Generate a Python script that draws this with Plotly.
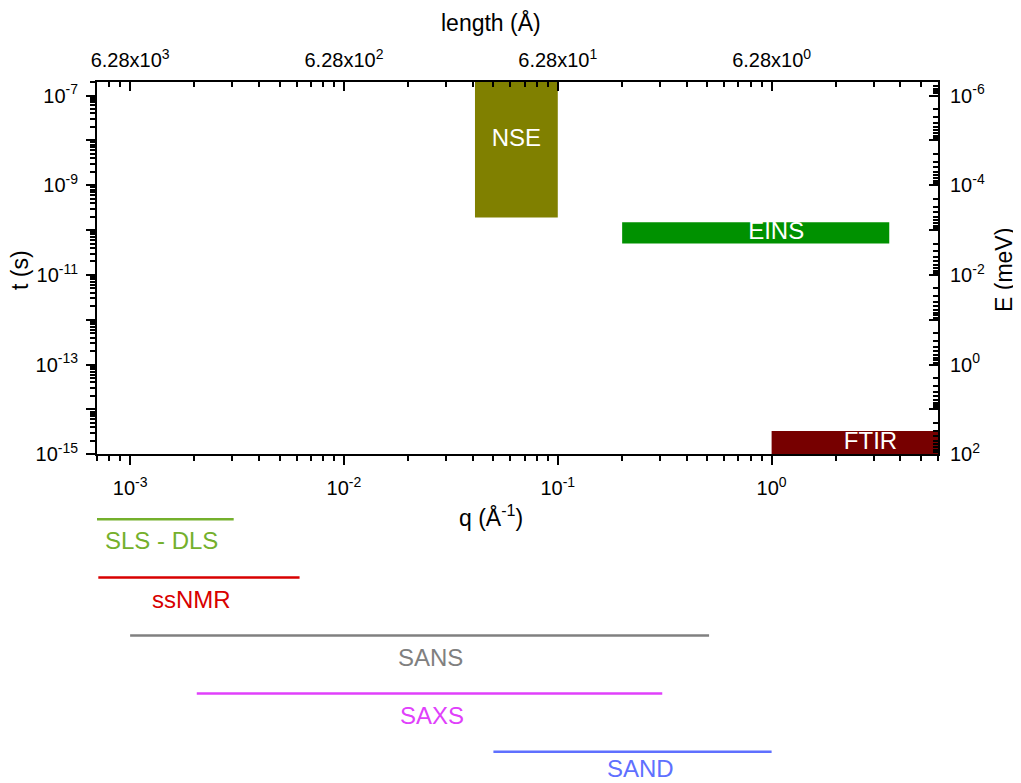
import numpy as np
import plotly.graph_objects as go

# ---------------- data ----------------
# axis limits
q_limits = [7e-4, 6.0]          # q (1/Å)
t_limits = [1e-15, 2e-7]        # t (s)
E_factor = 1e-13                # E (meV) = E_factor / t

# tick labels
q_major = [1e-3, 1e-2, 1e-1, 1.0]
q_major_text = ["10<sup>-3</sup>", "10<sup>-2</sup>", "10<sup>-1</sup>", "10<sup>0</sup>"]
length_text = ["6.28x10<sup>3</sup>", "6.28x10<sup>2</sup>", "6.28x10<sup>1</sup>", "6.28x10<sup>0</sup>"]
t_exponents = list(range(-15, -6))
t_label_exponents = [-15, -13, -11, -9, -7]
E_exponents = list(range(-6, 3))
E_label_exponents = [-6, -4, -2, 0, 2]

# techniques covering a q-t region
box_names = ["NSE", "EINS", "FTIR"]
box_q_lo = [0.041, 0.2, 1.0]
box_q_hi = [0.1, 3.55, 6.0]
box_t_lo = [1.9e-10, 5.0e-11, 1.0e-15]
box_t_hi = [2.0e-7, 1.5e-10, 3.3e-15]
box_label_q = [0.064, 1.05, 2.9]
box_label_t = [1.0e-8, 8.5e-11, 1.8e-15]
box_colors = ["#808000", "#009100", "#770000"]

# techniques covering only a q range
line_names = ["SLS - DLS", "ssNMR", "SANS", "SAXS", "SAND"]
line_q_lo = [7.0e-4, 7.1e-4, 1.0e-3, 2.05e-3, 0.05]
line_q_hi = [3.05e-3, 6.2e-3, 0.51, 0.308, 1.0]
line_label_q = [1.4e-3, 1.93e-3, 0.0253, 0.0258, 0.245]
line_colors = ["#74B02C", "#D80000", "#808080", "#E040FB", "#5F70FF"]

# ---------------- figure ----------------
FONT = "Liberation Sans, Arial, sans-serif"
fig = go.Figure()

for name, ql, qh, tl, th, c in zip(box_names, box_q_lo, box_q_hi, box_t_lo, box_t_hi, box_colors):
    fig.add_trace(go.Scatter(
        x=[ql, qh, qh, ql, ql], y=[tl, tl, th, th, tl],
        mode="lines", fill="toself", fillcolor=c, line=dict(width=0, color=c),
        hoverinfo="skip", showlegend=False, xaxis="x", yaxis="y"))

fig.add_trace(go.Scatter(
    x=box_label_q, y=box_label_t, mode="text", text=box_names,
    textfont=dict(family=FONT, size=24, color="white"),
    hoverinfo="skip", showlegend=False, xaxis="x", yaxis="y"))

# invisible helper traces so overlay axes render
fig.add_trace(go.Scatter(x=q_limits, y=t_limits, mode="markers", marker=dict(opacity=0),
                         hoverinfo="skip", showlegend=False, xaxis="x2", yaxis="y"))
fig.add_trace(go.Scatter(x=q_limits, y=[E_factor / t for t in t_limits], mode="markers",
                         marker=dict(opacity=0), hoverinfo="skip", showlegend=False,
                         xaxis="x", yaxis="y3"))

# q-range lines (lower panel)
for name, ql, qh, c in zip(line_names, line_q_lo, line_q_hi, line_colors):
    fig.add_trace(go.Scatter(
        x=[ql, qh], y=[name, name], mode="lines", line=dict(color=c, width=2.5),
        hoverinfo="skip", showlegend=False, xaxis="x3", yaxis="y2"))

cat_order = line_names[::-1]
label_yshift = [-21, -22, -22, -22, -17]   # styling: text offset below each line
annotations = []
for name, lq, c, ys in zip(line_names, line_label_q, line_colors, label_yshift):
    annotations.append(dict(
        x=np.log10(lq), y=cat_order.index(name), xref="x3", yref="y2",
        text=name, showarrow=False, yshift=ys, xanchor="center", yanchor="middle",
        font=dict(family=FONT, size=24, color=c)))

# page geometry (the page body adds an 8px offset)
OX, OY = 8, 8
W, H = 1021, 783
L, R, T, B = 89, 91, 74, 13
pw, ph = W - L - R, H - T - B


def px(x):
    return (x - OX - L) / pw


def py(y):
    return (OY + H - B - y) / ph


title_font = dict(family=FONT, size=23, color="black")
annotations += [
    dict(x=px(491), y=py(23), xref="paper", yref="paper", text="length (Å)",
         xanchor="center", yanchor="middle", showarrow=False, font=title_font),
    dict(x=px(491), y=py(516), xref="paper", yref="paper", text="q (Å<sup>-1</sup>)",
         xanchor="center", yanchor="middle", showarrow=False, font=title_font),
    dict(x=px(20), y=py(270), xref="paper", yref="paper", text="t (s)", textangle=-90,
         xanchor="center", yanchor="middle", showarrow=False, font=title_font),
    dict(x=px(1004), y=py(270), xref="paper", yref="paper", text="E (meV)", textangle=-90,
         xanchor="center", yanchor="middle", showarrow=False, font=title_font),
]


# minor tick positions
def minors(lo, hi):
    out = []
    for e in range(int(np.floor(np.log10(lo))) - 1, int(np.ceil(np.log10(hi))) + 1):
        for k in range(2, 10):
            v = k * 10.0 ** e
            if lo * 0.999 <= v <= hi * 1.001:
                out.append(v)
    return out


q_minor = minors(*q_limits)
t_minor = minors(*t_limits)
E_limits = [E_factor / t_limits[1], E_factor / t_limits[0]]
E_minor = minors(*E_limits)

tickfont = dict(family=FONT, size=20, color="black")
axis_common = dict(type="log", showgrid=False, zeroline=False, showline=True,
                   linecolor="black", linewidth=2, tickcolor="black", tickwidth=1.5,
                   ticklen=9, tickfont=tickfont, tickmode="array", automargin=False)


def minor_ticks(side, vals):
    return dict(ticks=side, ticklen=5, tickwidth=1.5, tickcolor="black",
                tickmode="array", tickvals=vals)


qrange = [np.log10(q_limits[0]), np.log10(q_limits[1])]
main_dom = [py(454.3), 1.0]

fig.update_layout(
    width=W, height=H, margin=dict(l=L, r=R, t=T, b=B),
    paper_bgcolor="white", plot_bgcolor="white",
    font=dict(family=FONT, color="black"),
    xaxis=dict(axis_common, domain=[0, 1], anchor="y", range=qrange, ticks="outside",
               tickvals=q_major, ticktext=q_major_text, ticklabelstandoff=6,
               minor=minor_ticks("outside", q_minor)),
    xaxis2=dict(axis_common, overlaying="x", side="top", anchor="y", range=qrange,
                ticks="inside", tickvals=q_major, ticktext=length_text, ticklabelstandoff=5,
                minor=minor_ticks("inside", q_minor)),
    yaxis=dict(axis_common, domain=main_dom, anchor="x",
               range=[np.log10(t_limits[0]), np.log10(t_limits[1])], ticks="outside",
               tickvals=[10.0 ** e for e in t_exponents], ticklabelstandoff=4,
               ticktext=[f"10<sup>{e}</sup>" if e in t_label_exponents else "" for e in t_exponents],
               minor=minor_ticks("outside", t_minor)),
    yaxis3=dict(axis_common, overlaying="y", side="right", anchor="x",
                range=[np.log10(E_limits[1]), np.log10(E_limits[0])], ticks="inside",
                tickvals=[10.0 ** e for e in E_exponents], ticklabelstandoff=6,
                ticktext=[f"10<sup>{e}</sup>" if e in E_label_exponents else "" for e in E_exponents],
                minor=minor_ticks("inside", E_minor)),
    xaxis3=dict(type="log", domain=[0, 1], anchor="y2", range=qrange, visible=False),
    yaxis2=dict(type="category", domain=[0, py(513.5)], anchor="x3",
                categoryorder="array", categoryarray=cat_order,
                range=[-0.453, 4.1], visible=False),
    annotations=annotations,
)

fig.write_html("out.html")
